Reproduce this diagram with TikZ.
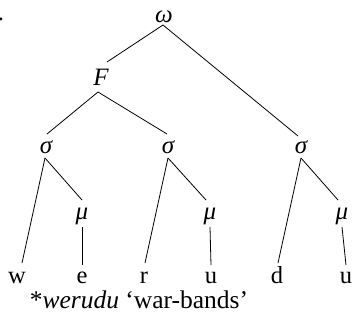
\documentclass[tikz,border=0pt]{standalone}
\usepackage{fontspec}
\setmainfont{Liberation Serif}
\begin{document}
\begin{tikzpicture}[x=1pt,y=-1pt,
  lbl/.style={inner sep=0pt,outer sep=0pt,anchor=base,font=\fontsize{24.5}{29}\selectfont},
  seg/.style={lbl,text depth=0pt},
  cat/.style={lbl,font=\fontsize{25}{30}\selectfont\itshape},
  note/.style={lbl,font=\fontsize{25.5}{30}\selectfont},
  branch/.style={line width=0.8pt}]
\useasboundingbox (0,0) rectangle (354,325);
% prosodic nodes (placed by baseline)
\node[cat] (om) at (164,22) {ω};
\node[cat] (F)  at (101,85) {F};
\node[cat] (s1) at (46,153) {σ};
\node[cat] (s2) at (168,153) {σ};
\node[cat] (s3) at (301,153) {σ};
\node[cat] (m1) at (82,219) {μ};
\node[cat] (m2) at (210,219) {μ};
\node[cat] (m3) at (342,219) {μ};
% segments
\node[seg] (w)  at (17,283) {w};
\node[seg] (e)  at (82,283) {e};
\node[seg] (r)  at (144,283) {r};
\node[seg] (u1) at (211,283) {u};
\node[seg] (d)  at (277,283) {d};
\node[seg] (u2) at (346,283) {u};
% caption and example label
\node[note] (cap) at (139,308) {*\textit{werudu} ‘war-bands’};
\node[lbl,anchor=base west] (ex) at (-2,20) {.};
% branches (shifts in picture units: positive y points down)
\draw[branch] ([shift={(-1,3)}]om.base) -- ([shift={(6,-23)}]F.base);
\draw[branch] ([shift={(-1,3)}]om.base) -- ([shift={(-3,-17)}]s3.base);
\draw[branch] ([shift={(-3,7)}]F.base) -- ([shift={(1,-19)}]s1.base);
\draw[branch] ([shift={(-3,7)}]F.base) -- ([shift={(-1,-19)}]s2.base);
% syllables to moras and onsets
\draw[branch] ([shift={(-1,5)}]s1.base) -- ([shift={(0,-19)}]m1.base);
\draw[branch] ([shift={(-1,5)}]s1.base) -- ([shift={(5,-20)}]w.base);
\draw[branch] ([shift={(0,5)}]s2.base) -- ([shift={(-4,-19)}]m2.base);
\draw[branch] ([shift={(0,5)}]s2.base) -- ([shift={(1,-20)}]r.base);
\draw[branch] ([shift={(0,5)}]s3.base) -- ([shift={(-4,-19)}]m3.base);
\draw[branch] ([shift={(0,5)}]s3.base) -- ([shift={(1,-20)}]d.base);
% moras to vowels
\draw[branch] ([shift={(0,8)}]m1.base) -- ([shift={(0,-18)}]e.base);
\draw[branch] ([shift={(0,8)}]m2.base) -- ([shift={(0,-18)}]u1.base);
\draw[branch] ([shift={(0,8)}]m3.base) -- ([shift={(0,-18)}]u2.base);
\end{tikzpicture}
\end{document}
